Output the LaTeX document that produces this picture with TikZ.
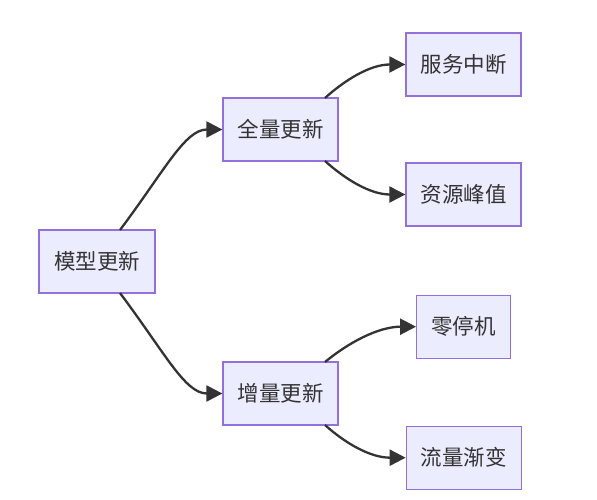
\documentclass[tikz,border=0pt]{standalone}
\usepackage{fontspec}
\newfontfamily\cjk{Noto Sans CJK SC}
\usetikzlibrary{arrows.meta}
\definecolor{boxfill}{HTML}{ECECFF}
\definecolor{boxdraw}{HTML}{9370DB}
\definecolor{edge}{HTML}{333333}
\definecolor{txt}{HTML}{333333}
\tikzset{
  box/.style={draw=boxdraw, fill=boxfill, line width=1.3pt, inner sep=0pt,
    minimum height=63pt, text=txt, font=\cjk\fontsize{21.5}{25}\selectfont},
  conn/.style={draw=edge, line width=2.3pt, -{Triangle[length=16pt,width=16pt]}}
}
\begin{document}
\begin{tikzpicture}[x=1pt,y=-1pt]
\useasboundingbox (0,0) rectangle (597,500);
\fill[white] (0,0) rectangle (597,500);
\node[box, minimum width=116pt] (root) at (97,261.5) {模型更新};
\node[box, minimum width=115pt] (full) at (280.5,129.5) {全量更新};
\node[box, minimum width=115pt] (inc) at (280.5,393.5) {增量更新};
\node[box, minimum width=115pt] (stop) at (463.5,64.5) {服务中断};
\node[box, minimum width=115pt] (peak) at (463.5,194.5) {资源峰值};
\node[box, minimum width=94pt] (zero) at (463.7,326.7) {零停机};
\node[box, minimum width=115pt] (grad) at (463.8,457.7) {流量渐变};

\coordinate (r1) at (120,230);
\coordinate (r2) at (120,293);
\coordinate (f1) at (325,98);
\coordinate (f2) at (325,161);
\coordinate (i1) at (325,362);
\coordinate (i2) at (325,425);

\draw[conn] (r1) .. controls (165,170) and (185,129.5) .. (full.west);
\draw[conn] (r2) .. controls (165,353) and (185,393.5) .. (inc.west);
\draw[conn] (f1) .. controls (345,80) and (370,64.5) .. (stop.west);
\draw[conn] (f2) .. controls (345,179) and (370,194.5) .. (peak.west);
\draw[conn] (i1) .. controls (348,343) and (378,326.7) .. (zero.west);
\draw[conn] (i2) .. controls (345,443) and (370,457.7) .. (grad.west);
\end{tikzpicture}
\end{document}
